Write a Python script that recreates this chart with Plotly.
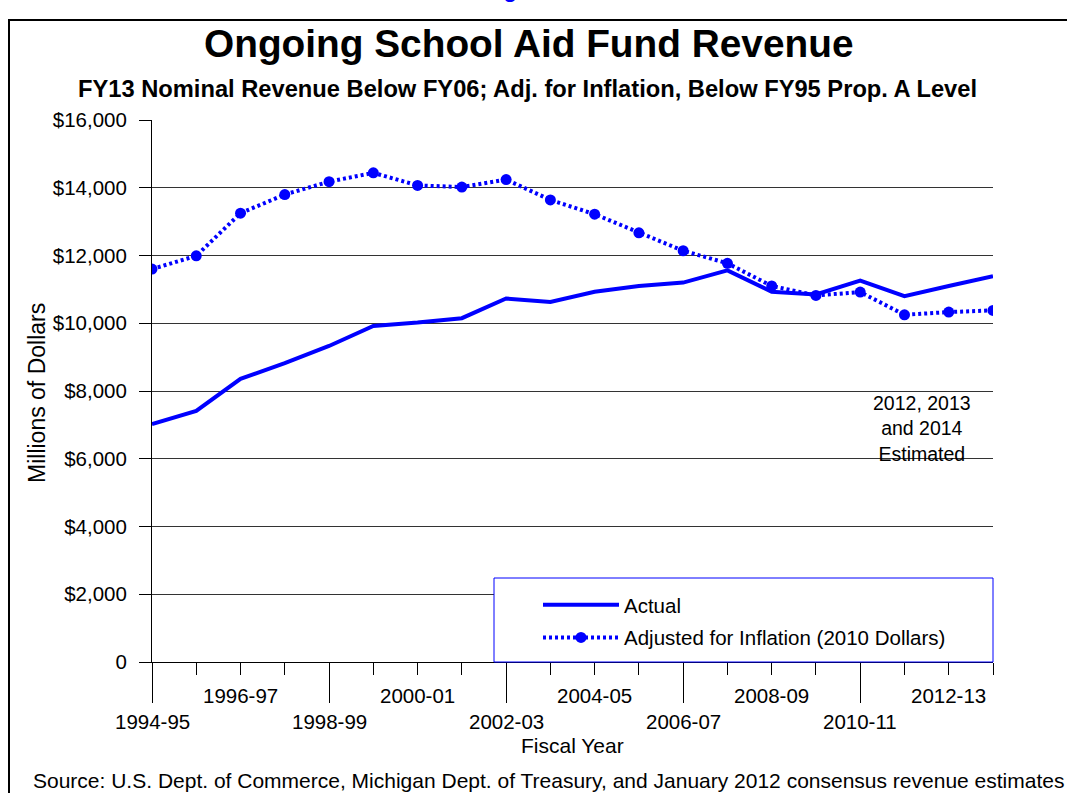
import plotly.graph_objects as go

# Fiscal years on the horizontal axis
years = ["1994-95", "1995-96", "1996-97", "1997-98", "1998-99", "1999-00",
         "2000-01", "2001-02", "2002-03", "2003-04", "2004-05", "2005-06",
         "2006-07", "2007-08", "2008-09", "2009-10", "2010-11", "2011-12",
         "2012-13", "2013-14"]

# Ongoing School Aid Fund revenue, millions of dollars
actual = [7020, 7410, 8360, 8820, 9330, 9920, 10020, 10150, 10730, 10630,
          10930, 11100, 11200, 11560, 10930, 10850, 11260, 10800, 11100, 11390]

# Same revenue in 2010 dollars
adjusted = [11600, 11990, 13250, 13800, 14180, 14440, 14070, 14020, 14240, 13640,
            13220, 12670, 12140, 11770, 11100, 10820, 10920, 10250, 10330, 10380]

y_ticks = [0, 2000, 4000, 6000, 8000, 10000, 12000, 14000, 16000]
y_tick_text = ["0", "$2,000", "$4,000", "$6,000", "$8,000", "$10,000",
               "$12,000", "$14,000", "$16,000"]

estimate_note = "2012, 2013<br>and 2014<br>Estimated"

FONT = "Liberation Sans, Arial, sans-serif"
BLUE = "#0000FF"

W, H = 1067, 793
L, R, T, B = 152, 74, 120, 131
PW, PH = W - L - R, H - T - B


def px_x(px):
    return (px - L) / PW


def px_y(py):
    return (H - B - py) / PH


xs = list(range(len(years)))

fig = go.Figure()
fig.add_trace(go.Scatter(
    x=xs, y=actual, text=years, name="Actual", mode="lines",
    line=dict(color=BLUE, width=4), legendgroup="a",
    hovertemplate="%{text}: $%{y:,}M<extra></extra>",
))
fig.add_trace(go.Scatter(
    x=xs, y=adjusted, text=years, name="Adjusted for Inflation (2010 Dollars)",
    mode="lines+markers",
    line=dict(color=BLUE, width=4, dash="3px,3px"),
    marker=dict(color=BLUE, size=11, symbol="circle"), legendgroup="b",
    hovertemplate="%{text}: $%{y:,}M<extra></extra>",
))

annotations = []

# Alternating two-row category labels, every other year
for i in range(0, len(years), 2):
    row_y = 721 if (i // 2) % 2 == 0 else 695
    annotations.append(dict(
        x=i, xref="x", y=px_y(row_y), yref="paper", text=years[i],
        showarrow=False, xanchor="center", yanchor="middle",
        font=dict(family=FONT, size=20.5, color="black"),
    ))

annotations += [
    dict(x=px_x(527), y=px_y(4), xref="paper", yref="paper", text="<b>Figure 3</b>",
         showarrow=False, xanchor="center", yanchor="bottom",
         font=dict(family=FONT, size=22, color=BLUE)),
    dict(x=px_x(528), y=px_y(43), xref="paper", yref="paper",
         text="<b>Ongoing School Aid Fund Revenue</b>",
         showarrow=False, xanchor="center", yanchor="middle",
         font=dict(family=FONT, size=38.8, color="black")),
    dict(x=px_x(527), y=px_y(89), xref="paper", yref="paper",
         text="<b>FY13 Nominal Revenue Below FY06; Adj. for Inflation, Below FY95 Prop. A Level</b>",
         showarrow=False, xanchor="center", yanchor="middle",
         font=dict(family=FONT, size=23.7, color="black")),
    dict(x=px_x(37), y=px_y(393), xref="paper", yref="paper", text="Millions of Dollars",
         textangle=-90, showarrow=False, xanchor="center", yanchor="middle",
         font=dict(family=FONT, size=23, color="black")),
    dict(x=0.5, y=px_y(745), xref="paper", yref="paper", text="Fiscal Year",
         showarrow=False, xanchor="center", yanchor="middle",
         font=dict(family=FONT, size=21, color="black")),
    dict(x=px_x(548), y=px_y(780), xref="paper", yref="paper",
         text="Source: U.S. Dept. of Commerce, Michigan Dept. of Treasury, and January 2012 consensus revenue estimates",
         showarrow=False, xanchor="center", yanchor="middle",
         font=dict(family=FONT, size=21, color="black")),
    dict(x=px_x(922), y=px_y(429), xref="paper", yref="paper", text=estimate_note,
         showarrow=False, xanchor="center", yanchor="middle", align="center",
         font=dict(family=FONT, size=19.5, color="black")),
]

shapes = [
    # outer frame of the chart
    dict(type="rect", xref="paper", yref="paper",
         x0=px_x(9), x1=px_x(1075), y0=px_y(800), y1=px_y(20),
         line=dict(color="black", width=2), fillcolor="rgba(0,0,0,0)", layer="below"),
    # legend box
    dict(type="rect", xref="paper", yref="paper",
         x0=px_x(494), x1=1.0, y0=0.0, y1=px_y(578),
         line=dict(color=BLUE, width=1), fillcolor="white", layer="above"),
]

fig.update_layout(
    width=W, height=H,
    margin=dict(l=L, r=R, t=T, b=B, pad=0),
    paper_bgcolor="white", plot_bgcolor="white",
    font=dict(family=FONT, size=21, color="black"),
    showlegend=True,
    legend=dict(
        x=px_x(538), y=px_y(585), xanchor="left", yanchor="top",
        bgcolor="rgba(0,0,0,0)", borderwidth=0, itemwidth=76,
        tracegroupgap=3, font=dict(family=FONT, size=20.5, color="black"),
    ),
    xaxis=dict(
        range=[0, len(years) - 1], showgrid=False, zeroline=False,
        showline=True, linecolor="black", linewidth=1,
        tickmode="array", tickvals=[0, 4, 8, 12, 16],
        ticks="outside", ticklen=40, tickcolor="black", tickwidth=1,
        showticklabels=False,
        minor=dict(ticks="outside", ticklen=12, dtick=1, tick0=0,
                   tickcolor="black", tickwidth=1, showgrid=False),
    ),
    yaxis=dict(
        range=[0, 16000], tickmode="array", tickvals=y_ticks, ticktext=y_tick_text,
        showgrid=True, gridcolor="#333333", gridwidth=1, zeroline=False,
        showline=True, linecolor="black", linewidth=1,
        ticks="outside", ticklen=12, tickcolor="black", tickwidth=1,
        ticklabelstandoff=8,
        tickfont=dict(family=FONT, size=20.5, color="black"),
    ),
    annotations=annotations,
    shapes=shapes,
)

fig.write_html("out.html")
